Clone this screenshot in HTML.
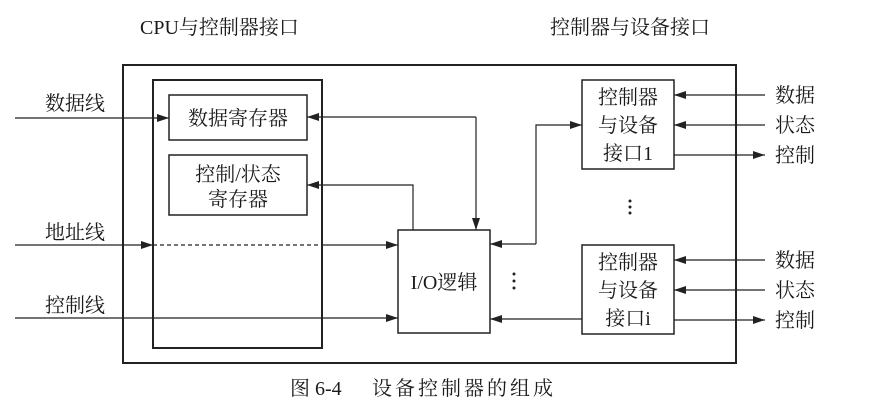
<!DOCTYPE html>
<html><head><meta charset="utf-8"><style>
html,body{margin:0;padding:0;background:#fff;}
svg{display:block;}
text{font-family:"Liberation Serif","Noto Serif CJK SC","Noto Sans CJK SC",serif;font-size:20px;fill:#1a1a1a;}
</style></head><body>
<svg width="877" height="419" viewBox="0 0 877 419" xmlns="http://www.w3.org/2000/svg">
<defs>
<marker id="a" viewBox="0 0 12 8" refX="12" refY="4" markerWidth="12" markerHeight="8" markerUnits="userSpaceOnUse" orient="auto"><path d="M0,0 L12,4 L0,8 Z" fill="#222"/></marker>
</defs>
<g stroke="#222" fill="none" stroke-width="1.5">
<rect x="123" y="65" width="613" height="298" stroke-width="2"/>
<rect x="153" y="80" width="169" height="268" stroke-width="2"/>
<rect x="169" y="95" width="138" height="45"/>
<rect x="169" y="155" width="138" height="60"/>
<rect x="398" y="230" width="92" height="103"/>
<rect x="582" y="80" width="92" height="89"/>
<rect x="582" y="245" width="92" height="89"/>
<g stroke-width="1.2">
<line x1="15" y1="118" x2="169" y2="118" marker-end="url(#a)"/>
<polyline points="476,117 476,230" marker-end="url(#a)"/>
<line x1="476" y1="117" x2="307" y2="117" marker-end="url(#a)"/>
<polyline points="413,230 413,185 307,185" marker-end="url(#a)"/>
<line x1="15" y1="245" x2="153" y2="245" marker-end="url(#a)"/>
<line x1="153" y1="245" x2="322" y2="245" stroke-dasharray="4,3"/>
<line x1="322" y1="245" x2="398" y2="245" marker-end="url(#a)"/>
<line x1="15" y1="318" x2="398" y2="318" marker-end="url(#a)"/>
<polyline points="536,244 536,125 582,125" marker-end="url(#a)"/>
<line x1="536" y1="244" x2="490" y2="244" marker-end="url(#a)"/>
<line x1="582" y1="319" x2="490" y2="319" marker-end="url(#a)"/>
<line x1="765" y1="95" x2="674" y2="95" marker-end="url(#a)"/>
<line x1="765" y1="125" x2="674" y2="125" marker-end="url(#a)"/>
<line x1="674" y1="155" x2="765" y2="155" marker-end="url(#a)"/>
<line x1="765" y1="260" x2="674" y2="260" marker-end="url(#a)"/>
<line x1="765" y1="290" x2="674" y2="290" marker-end="url(#a)"/>
<line x1="674" y1="320" x2="765" y2="320" marker-end="url(#a)"/>
</g>
</g>
<g fill="#222">
<circle cx="630" cy="201" r="1.5"/><circle cx="630" cy="207" r="1.5"/><circle cx="630" cy="213" r="1.5"/>
<circle cx="514" cy="274" r="1.5"/><circle cx="514" cy="281" r="1.5"/><circle cx="514" cy="288" r="1.5"/>
</g>
<text x="140" y="34">CPU与控制器接口</text>
<text x="550" y="34">控制器与设备接口</text>
<text x="45" y="110">数据线</text>
<text x="45" y="239">地址线</text>
<text x="45" y="312">控制线</text>
<text x="238" y="125" text-anchor="middle">数据寄存器</text>
<text x="238" y="181" text-anchor="middle">控制/状态</text>
<text x="238" y="206" text-anchor="middle">寄存器</text>
<text x="444" y="289" text-anchor="middle">I/O逻辑</text>
<text x="628" y="104" text-anchor="middle">控制器</text>
<text x="628" y="132" text-anchor="middle">与设备</text>
<text x="628" y="160" text-anchor="middle">接口1</text>
<text x="628" y="269" text-anchor="middle">控制器</text>
<text x="628" y="297" text-anchor="middle">与设备</text>
<text x="628" y="325" text-anchor="middle">接口i</text>
<text x="775" y="102">数据</text>
<text x="775" y="132">状态</text>
<text x="775" y="162">控制</text>
<text x="775" y="267">数据</text>
<text x="775" y="297">状态</text>
<text x="775" y="327">控制</text>
<text x="290" y="395">图 6-4</text>
<text x="372" y="395" style="letter-spacing:3px">设备控制器的组成</text>
</svg>
</body></html>
